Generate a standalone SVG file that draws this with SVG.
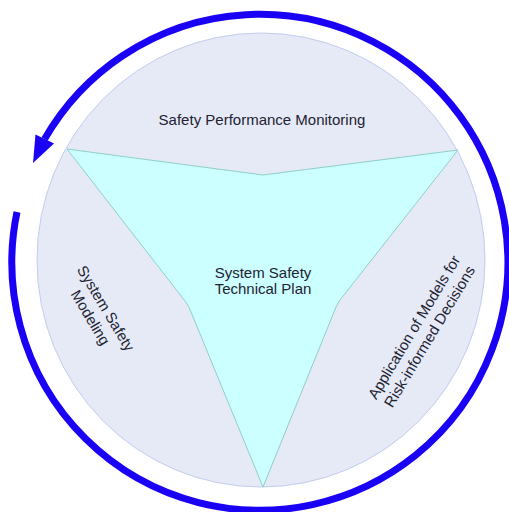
<svg xmlns="http://www.w3.org/2000/svg" width="509" height="512" viewBox="0 0 509 512">
  <style>
    .lbl { font-family: "Liberation Sans", Arial, sans-serif; font-size: 15px; fill: #222233; text-anchor: middle; }
    .disc { fill: #e6eaf6; stroke: #c3cbee; stroke-width: 1; }
    .tri { fill: #ccffff; stroke: #8fcfc6; stroke-width: 1; }
    .ring { fill: none; stroke: #1a00f5; stroke-width: 7; }
    .head { fill: #1a00f5; }
  </style>
  <rect width="509" height="512" fill="#ffffff"/>
  <g id="connectors">
    <path class="ring" d="M 17,212 A 248 248 0 1 0 44.6,139.1"/>
    <polygon class="head" points="33,163 35.5,134.5 54,143.5"/>
  </g>
  <g id="cycle-disc">
    <ellipse class="disc" cx="261" cy="260" rx="224" ry="227"/>
  </g>
  <g id="system-safety-technical-plan">
    <path class="tri" d="M 67,149 L 263,175 L 458,150 L 340,300 Q 336,306 334,312 L 263,487 L 191,312 Q 189,306 185,301 Z"/>
    <text class="lbl" x="263" y="278">System Safety</text>
    <text class="lbl" x="263" y="294">Technical Plan</text>
  </g>
  <g id="safety-performance-monitoring">
    <text class="lbl" x="262" y="125">Safety Performance Monitoring</text>
  </g>
  <g id="system-safety-modeling" transform="translate(98,313) rotate(59)">
    <text class="lbl" x="0" y="-4">System Safety</text>
    <text class="lbl" x="0" y="14">Modeling</text>
  </g>
  <g id="application-of-models" transform="translate(422,332) rotate(-59)">
    <text class="lbl" x="0" y="-4">Application of Models for</text>
    <text class="lbl" x="0" y="14">Risk-informed Decisions</text>
  </g>
</svg>
